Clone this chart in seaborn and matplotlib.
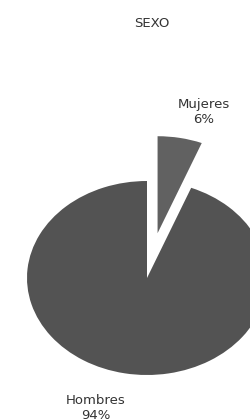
import matplotlib
matplotlib.use("Agg")
import matplotlib.pyplot as plt
import seaborn as sns

# ---------- DATA ----------
categories = ["Mujeres", "Hombres"]
percentages = [6, 94]
slice_colors = ["#616161", "#535353"]
explode = [0.47, 0.0]
title = "SEXO"

# ---------- STYLE ----------
sns.set_theme(style="white")
plt.rcParams["font.family"] = ["DejaVu Sans"]

fig = plt.figure(figsize=(2.51, 4.19), dpi=100)
ax = fig.add_axes([0, 0, 1, 1])

labels = [f"{c}\n{p}%" for c, p in zip(categories, percentages)]
wedges, texts = ax.pie(
    percentages,
    labels=labels,
    colors=slice_colors,
    explode=explode,
    startangle=90,
    counterclock=False,
    labeldistance=1.32,
    textprops=dict(fontsize=9.5, color="#333333", ha="center", va="center",
                   linespacing=1.15),
    wedgeprops=dict(linewidth=0),
)

# the pie in the original is stretched sideways and cropped on the right
ax.set_aspect("auto")
ax.set_xlim(-147 / 120, 104 / 120)
ax.set_ylim(-141 / 97, 278 / 97)
ax.axis("off")

# nudge the labels to where the original puts them
texts[0].set_position((0.47, 1.71))
texts[1].set_position((-0.425, -1.34))

fig.text(0.605, 0.945, title, ha="center", va="center", fontsize=9.5, color="#333333")

fig.savefig("out.png", dpi=100, facecolor="white")
